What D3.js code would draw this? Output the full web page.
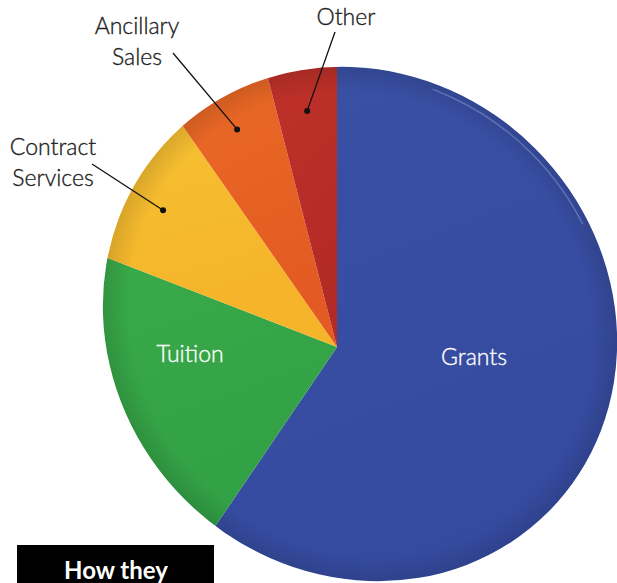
<!DOCTYPE html>
<html>
<head>
<meta charset="UTF-8">
<title>Revenue pie</title>
<script src="https://cdn.jsdelivr.net/npm/d3@7"></script>
<style>
  html, body { margin: 0; padding: 0; background: #fff; }
  svg { display: block; }
  text { font-family: Lato, "Noto Sans", sans-serif; }
</style>
</head>
<body>
<svg width="617" height="583"></svg>
<script>
var categories = ['Grants', 'Tuition', 'Contract Services', 'Ancillary Sales', 'Other'];
var values = [59.5, 21.4, 9.4, 5.7, 4.0];
var colors = ['#3b52a6', '#3cae4a', '#f7cb38', '#ef7529', '#c5372c'];
var shades = ['#34499e', '#2f9c44', '#f5b42a', '#e35b22', '#b42a25'];
var callouts = [
  {name: 'Contract Services', lines: ['Contract', 'Services'], tx: 53, ty: 155, lx: 92, ly: 164, r: 0.79},
  {name: 'Ancillary Sales', lines: ['Ancillary', 'Sales'], tx: 137, ty: 34, lx: 173, ly: 53, r: 0.855},
  {name: 'Other', lines: ['Other'], tx: 346, ty: 25, lx: 335, ly: 32, r: 0.85}
];

var svg = d3.select('svg');
var apex = {x: 337, y: 347};          // where the slices meet
var rim = {cx: 360, cy: 324, rx: 266, ry: 248, rot: 45};  // tilted pie outline
var rimT = 'rotate(' + rim.rot + ',' + rim.cx + ',' + rim.cy + ')';

var defs = svg.append('defs');
defs.append('clipPath').attr('id', 'rim')
  .append('ellipse')
  .attr('cx', rim.cx).attr('cy', rim.cy)
  .attr('rx', rim.rx).attr('ry', rim.ry)
  .attr('transform', rimT);

// wedge that limits the rim highlight to the upper right
defs.append('clipPath').attr('id', 'hiClip')
  .append('path')
  .attr('transform', 'translate(' + rim.cx + ',' + rim.cy + ')')
  .attr('d', d3.arc().innerRadius(0).outerRadius(400).startAngle(0.3).endAngle(1.15)());

// slice gradients
categories.forEach(function(c, i) {
  var g = defs.append('linearGradient').attr('id', 'g' + i)
    .attr('x1', '0').attr('y1', '0').attr('x2', '0.3').attr('y2', '1');
  g.append('stop').attr('offset', '0').attr('stop-color', colors[i]);
  g.append('stop').attr('offset', '1').attr('stop-color', shades[i]);
});
var shade = defs.append('radialGradient').attr('id', 'shade')
  .attr('cx', '0.5').attr('cy', '0.5').attr('r', '0.5');
shade.append('stop').attr('offset', '0.9').attr('stop-color', '#000').attr('stop-opacity', 0);
shade.append('stop').attr('offset', '1').attr('stop-color', '#000').attr('stop-opacity', 0.12);

var pie = d3.pie().sort(null).value(function(d) { return d; });
var arcs = pie(values);
var arc = d3.arc().innerRadius(0).outerRadius(420);

var pieG = svg.append('g').attr('clip-path', 'url(#rim)');
pieG.append('g')
  .attr('transform', 'translate(' + apex.x + ',' + apex.y + ')')
  .selectAll('path')
  .data(arcs)
  .enter().append('path')
  .attr('d', arc)
  .attr('fill', function(d, i) { return 'url(#g' + i + ')'; });

pieG.append('ellipse')
  .attr('cx', rim.cx).attr('cy', rim.cy)
  .attr('rx', rim.rx).attr('ry', rim.ry)
  .attr('transform', rimT)
  .attr('fill', 'url(#shade)');

// thin highlight along the upper right rim
svg.append('g').attr('clip-path', 'url(#hiClip)')
  .append('ellipse')
  .attr('cx', rim.cx).attr('cy', rim.cy)
  .attr('rx', rim.rx - 6).attr('ry', rim.ry - 6)
  .attr('transform', rimT)
  .attr('fill', 'none')
  .attr('stroke', '#7d92d6')
  .attr('stroke-width', 1.5)
  .attr('opacity', 0.55);

// labels inside
var inside = [
  {name: 'Grants', x: 474, y: 365},
  {name: 'Tuition', x: 190, y: 362}
];
svg.selectAll('.inlabel')
  .data(inside)
  .enter().append('text')
  .attr('class', 'inlabel')
  .attr('x', function(d) { return d.x; })
  .attr('y', function(d) { return d.y; })
  .attr('text-anchor', 'middle')
  .attr('font-size', '23px')
  .attr('font-weight', 300)
  .attr('fill', '#fff')
  .attr('stroke', '#fff').attr('stroke-width', 0.35)
  .text(function(d) { return d.name; });

// callouts: line ends at a dot inside the slice
callouts.forEach(function(c) {
  var a = arcs[categories.indexOf(c.name)];
  var mid = (a.startAngle + a.endAngle) / 2;
  var rr = 280 * c.r;
  var px = apex.x + Math.sin(mid) * rr;
  var py = apex.y - Math.cos(mid) * rr;
  svg.append('line')
    .attr('x1', c.lx).attr('y1', c.ly)
    .attr('x2', px).attr('y2', py)
    .attr('stroke', '#111').attr('stroke-width', 1.3);
  svg.append('circle')
    .attr('cx', px).attr('cy', py).attr('r', 3)
    .attr('fill', '#111');
  var t = svg.append('text')
    .attr('text-anchor', 'middle')
    .attr('font-size', '23px')
    .attr('font-weight', 300)
    .attr('fill', '#222')
    .attr('stroke', '#222').attr('stroke-width', 0.35);
  c.lines.forEach(function(l, k) {
    t.append('tspan').attr('x', c.tx).attr('y', c.ty + k * 31).text(l);
  });
});

// black tab at bottom left
svg.append('rect')
  .attr('x', 17).attr('y', 545).attr('width', 197).attr('height', 40)
  .attr('fill', '#000');
svg.append('text')
  .attr('x', 116).attr('y', 579)
  .attr('text-anchor', 'middle')
  .attr('font-size', '24px')
  .attr('font-weight', 'bold')
  .attr('fill', '#fff')
  .text('How they');
</script>
</body>
</html>
